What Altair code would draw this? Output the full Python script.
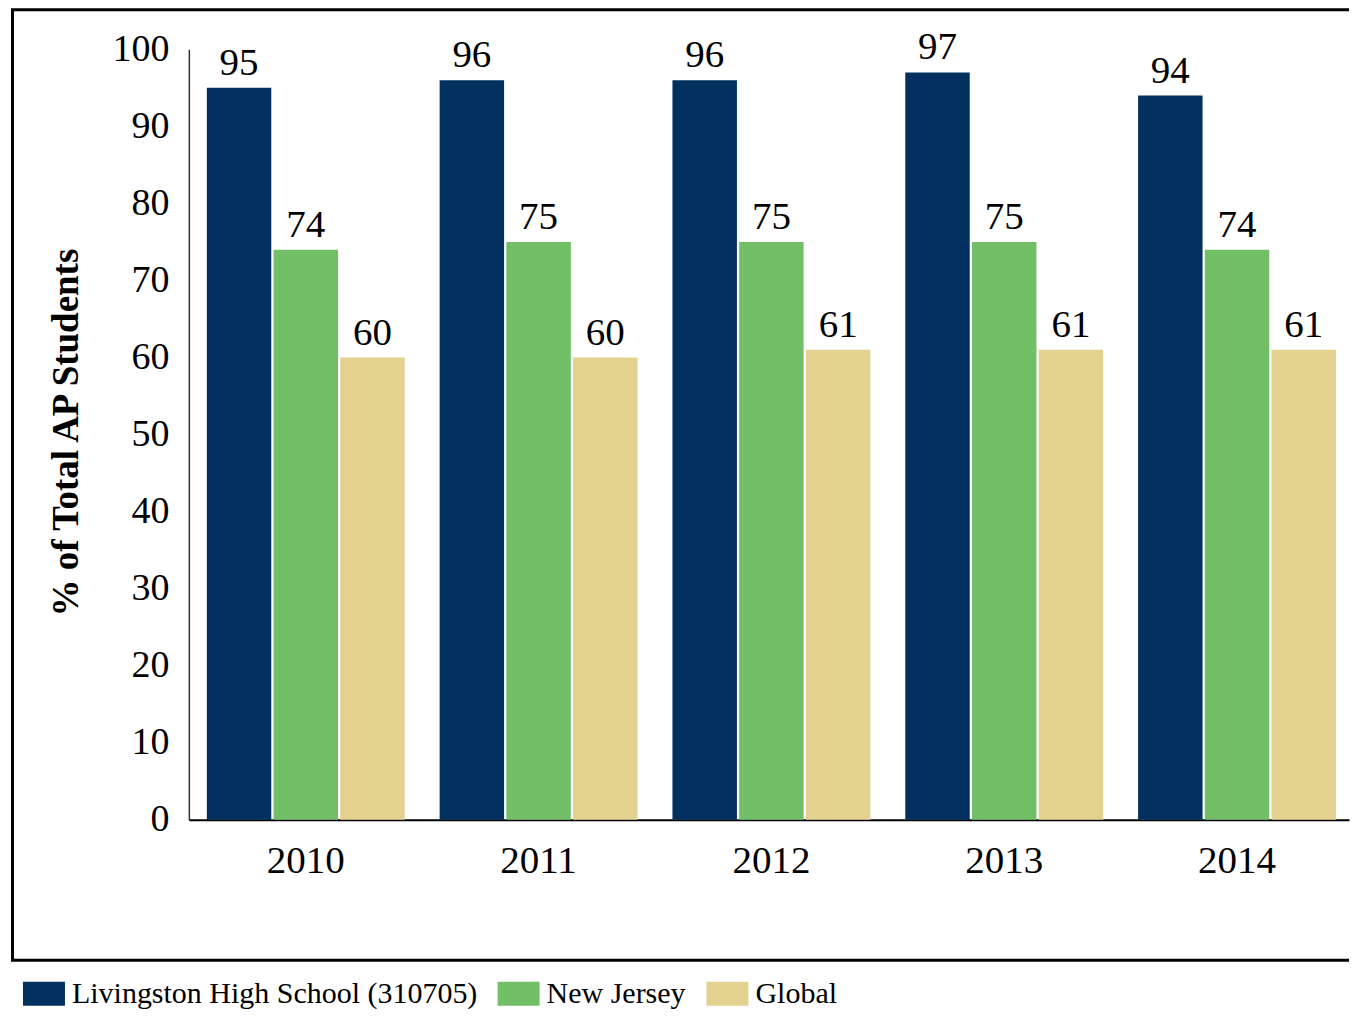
import altair as alt
import pandas as pd

years = ["2010", "2011", "2012", "2013", "2014"]
series = ["Livingston High School (310705)", "New Jersey", "Global"]
livingston = [95, 96, 96, 97, 94]
new_jersey = [74, 75, 75, 75, 74]
global_vals = [60, 60, 61, 61, 61]
colors = ["#02305f", "#73bf68", "#e3d28f"]
y_ticks = [0, 10, 20, 30, 40, 50, 60, 70, 80, 90, 100]
y_title = "% of Total AP Students"

rows = []
for name, vals in zip(series, [livingston, new_jersey, global_vals]):
    for yr, v in zip(years, vals):
        rows.append({"year": yr, "series": name, "value": v})
df = pd.DataFrame(rows)

FONT = "Liberation Serif"
W = 1161

base = alt.Chart(df).encode(
    x=alt.X(
        "year:N",
        sort=years,
        scale=alt.Scale(paddingInner=0.15, paddingOuter=0.0665, align=0.58),
        axis=alt.Axis(
            title=None, labelAngle=0, labelFontSize=39, labelPadding=22,
            ticks=False, domainColor="black", domainWidth=2,
            labelColor="black", labelFont=FONT,
        ),
    ),
    xOffset=alt.XOffset(
        "series:N", sort=series,
        scale=alt.Scale(paddingInner=0.034, paddingOuter=0),
    ),
    y=alt.Y(
        "value:Q",
        scale=alt.Scale(domain=[0, 100], nice=False),
        axis=alt.Axis(
            values=y_ticks, title=y_title, grid=False, ticks=False,
            labelFontSize=38, labelPadding=20, labelColor="black", labelFont=FONT,
            domainColor="#333333", domainWidth=1.5,
            titleFontSize=37, titleFontWeight="bold", titleColor="black", titleFont=FONT,
            titleAngle=270, titleAlign="center", titleBaseline="middle",
            titleX=-122, titleY=383,
        ),
    ),
)

bars = base.mark_bar().encode(
    color=alt.Color(
        "series:N", sort=series,
        scale=alt.Scale(domain=series, range=colors),
        legend=alt.Legend(
            title=None, orient="none", legendX=-160, legendY=930,
            direction="horizontal", columns=3,
            symbolType="M-1.75,-1H1.75V1H-1.75Z", symbolSize=576,
            symbolStrokeWidth=0, symbolOpacity=1,
            labelFontSize=30, labelFont=FONT, labelColor="black",
            labelOffset=13, columnPadding=20, padding=0, labelLimit=800,
        ),
    )
)

labels = base.mark_text(
    baseline="alphabetic", dy=-13, fontSize=39, font=FONT, color="black"
).encode(text="value:Q")

frame = alt.Data(values=[{"k": 1}])
frame_left = alt.Chart(frame).mark_rule(color="black", strokeWidth=3).encode(
    x=alt.value(-176.5), y=alt.value(-39.5), y2=alt.value(911.5)
)
frame_top = alt.Chart(frame).mark_rule(color="black", strokeWidth=3).encode(
    x=alt.value(-178), x2=alt.value(W), y=alt.value(-39.5)
)
frame_bottom = alt.Chart(frame).mark_rule(color="black", strokeWidth=3).encode(
    x=alt.value(-178), x2=alt.value(W), y=alt.value(911.5)
)

chart = alt.layer(bars, labels, frame_left, frame_top, frame_bottom).properties(
    width=W, height=771,
    padding={"left": 1, "top": 0, "right": 0, "bottom": 0},
    background="white",
).configure(font=FONT).configure_view(strokeWidth=0, stroke=None)

chart.save("out.html", embed_options={"renderer": "svg", "actions": False})
